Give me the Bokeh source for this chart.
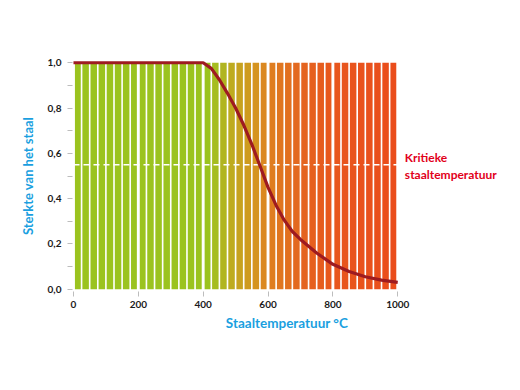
from bokeh.plotting import figure
from bokeh.models import Range1d, FixedTicker, CustomJSTickFormatter, ColumnDataSource
from bokeh.core.properties import value
from bokeh.embed import file_html
from bokeh.resources import INLINE

# ---- data ----
bar_starts = list(range(0, 1000, 25))          # 40 temperature bands of 25 °C
bar_tops = [1.0] * 40

curve_temp = [0, 400, 425, 450, 475, 500, 525, 550, 575, 600, 625, 650, 675,
              700, 750, 800, 850, 900, 950, 1000]
curve_val = [1.0, 1.0, 0.975, 0.925, 0.865, 0.80, 0.725, 0.64, 0.545, 0.45,
             0.37, 0.305, 0.255, 0.22, 0.16, 0.11, 0.078, 0.055, 0.04, 0.03]

critical_level = 0.55
critical_label = ["Kritieke", "staaltemperatuur"]
x_ticks = [0, 200, 400, 600, 800, 1000]
y_ticks = [0.0, 0.2, 0.4, 0.6, 0.8, 1.0]
y_minor = [0.1, 0.3, 0.5, 0.7, 0.9]

# colour stops along temperature
stops = [(0, "#9bc31f"), (412, "#9bc31f"), (450, "#abba20"), (500, "#c4a61f"),
         (575, "#d8901f"), (600, "#de8020"), (700, "#e4661f"), (800, "#e8571d"),
         (1000, "#ea4c1b")]

def hex2rgb(h):
    return tuple(int(h[i:i + 2], 16) for i in (1, 3, 5))

def color_at(t):
    for (t0, c0), (t1, c1) in zip(stops[:-1], stops[1:]):
        if t0 <= t <= t1:
            f = (t - t0) / (t1 - t0) if t1 > t0 else 0
            a, b = hex2rgb(c0), hex2rgb(c1)
            return "#%02x%02x%02x" % tuple(round(a[i] + (b[i] - a[i]) * f) for i in range(3))
    return stops[-1][1]

lefts, rights, colors = [], [], []
for s in bar_starts:
    e = s + 25
    lefts.append(s + (4.5 if s % 200 == 0 else 2.5))
    rights.append(e - (4.5 if e % 200 == 0 else 2.5))
    colors.append(color_at(s + 12.5))

src = ColumnDataSource(dict(left=lefts, right=rights, top=bar_tops,
                            bottom=[0.0] * len(bar_tops), color=colors))

p = figure(frame_width=429, frame_height=231, output_backend="svg", toolbar_location=None,
           x_range=Range1d(-3, 1320), y_range=Range1d(-0.01, 1.01),
           min_border_left=72, min_border_top=60, min_border_right=2, min_border_bottom=70)
p.outline_line_color = None
p.grid.visible = False
p.background_fill_color = "white"

p.quad(left="left", right="right", top="top", bottom="bottom", color="color",
       line_color=None, source=src)

p.line([0, 1000], [critical_level, critical_level], line_color="white",
       line_width=1.5, line_dash="6 4")

p.line(curve_temp, curve_val, line_color="#9e1b20", line_width=3.2)

font = "Lato"
blue = "#1a9fe0"

for ax in (p.xaxis[0], p.yaxis[0]):
    ax.axis_line_color = None
    ax.major_tick_line_color = "#bdbdbd"
    ax.minor_tick_line_color = "#bdbdbd"
    ax.major_tick_in = 0
    ax.minor_tick_in = 0
    ax.major_tick_out = 5
    ax.minor_tick_out = 5
    ax.major_label_text_font = font
    ax.major_label_text_font_style = "bold"
    ax.major_label_text_font_size = "10px"
    ax.major_label_text_color = "#1a1a1a"
    ax.axis_label_text_font = font
    ax.axis_label_text_font_style = "bold"
    ax.axis_label_text_color = blue

p.xaxis.ticker = FixedTicker(ticks=x_ticks)
p.xaxis.axis_label = "Staaltemperatuur °C"
p.xaxis.axis_label_text_font_size = "13.5px"
p.xaxis.major_label_standoff = 4
p.xaxis.axis_label_standoff = 4

p.yaxis.ticker = FixedTicker(ticks=y_ticks, minor_ticks=y_minor)
p.yaxis.formatter = CustomJSTickFormatter(code="return tick.toFixed(1).replace('.', ',');")
p.yaxis.axis_label = "Sterkte van het staal"
p.yaxis.axis_label_text_font_size = "13px"
p.yaxis.major_label_standoff = 6
p.yaxis.axis_label_standoff = 9

red = "#e2001a"
p.text(x=[1022, 1022], y=[0.58, 0.505], text=critical_label, text_color=red,
       text_font=value(font), text_font_style="bold", text_font_size="12px",
       text_baseline="middle")

open("out.html", "w").write(file_html(p, INLINE))
